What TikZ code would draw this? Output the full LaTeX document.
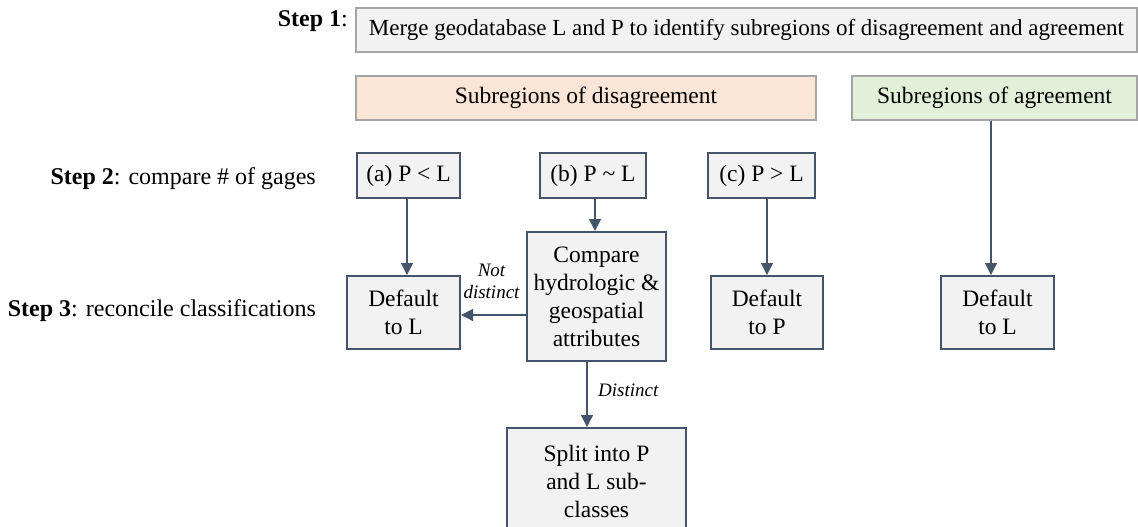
\documentclass[tikz,border=0pt]{standalone}
\usepackage{fontspec}
\setmainfont{Liberation Serif}
\usetikzlibrary{arrows.meta}
\definecolor{dk}{HTML}{44546A}
\definecolor{gb}{HTML}{A5A5A5}
\definecolor{lg}{HTML}{F2F2F2}
\definecolor{peach}{HTML}{FBE5D6}
\definecolor{mint}{HTML}{E2F0D9}
\begin{document}
\begin{tikzpicture}[x=1pt,y=-1pt,
  txt/.style={font=\fontsize{23.5}{28}\selectfont},
  topbox/.style={draw=gb, line width=2pt, inner sep=0pt, txt},
  box/.style={draw=dk, fill=lg, line width=2pt, inner sep=0pt, align=center, txt},
  conn/.style={draw=dk, line width=1.3pt, -{Triangle[length=12pt,width=12pt]}},
  lbl/.style={font=\fontsize{19}{22}\selectfont\itshape, align=center, inner sep=0pt},
  steplbl/.style={font=\fontsize{24}{28}\selectfont, inner sep=0pt, anchor=base east}
]
\useasboundingbox (0,0) rectangle (1138,527);
% top row
\node[topbox, fill=lg, minimum width=781pt, minimum height=44pt, font=\fontsize{23}{28}\selectfont] (s1) at (746.5,30)
  {Merge geodatabase L and P to identify subregions of disagreement and agreement};
\node[steplbl] (l1) at (348,27) {\textbf{Step 1}:};
\node[topbox, fill=peach, minimum width=460pt, minimum height=44pt] (dis) at (586,98) {Subregions of disagreement};
\node[topbox, fill=mint, minimum width=285pt, minimum height=44pt] (agr) at (994.5,98) {Subregions of agreement};
% step 2
\node[steplbl] (l2) at (316,184) {\textbf{Step 2}: compare \# of gages};
\node[box, minimum width=103pt, minimum height=45pt] (a) at (408.5,175.5) {(a) P < L};
\node[box, minimum width=106pt, minimum height=45pt] (b) at (593,175.5) {(b) P \textasciitilde{} L};
\node[box, minimum width=107pt, minimum height=45pt] (c) at (761.5,175.5) {(c) P > L};
% step 3
\node[steplbl] (l3) at (316,316) {\textbf{Step 3}: reconcile classifications};
\node[box, minimum width=113pt, minimum height=73pt] (dl) at (403.5,312.5) {Default\\to L};
\node[box, minimum width=139pt, minimum height=129pt] (cmp) at (596.5,296.5) {Compare\\hydrologic \&\\geospatial\\attributes};
\node[box, minimum width=112pt, minimum height=73pt] (dp) at (767,312.5) {Default\\to P};
\node[box, minimum width=113pt, minimum height=73pt] (dr) at (997.5,312.5) {Default\\to L};
\node[box, minimum width=179pt, minimum height=106pt, anchor=north] (sp) at (596.5,427) {Split into P\\and L sub-\\classes};
% connectors
\coordinate (ax) at (407,0);
\draw[conn] (a.south -| ax) -- (dl.north -| ax);
\coordinate (bx) at (595,0);
\draw[conn] (b.south -| bx) -- (cmp.north -| bx);
\draw[conn] (c.south -| dp.north) -- (dp.north);
\coordinate (rx) at (991,0);
\draw[conn] (agr.south -| rx) -- (dr.north -| rx);
\coordinate (hy) at (0,315);
\draw[conn] (cmp.west |- hy) -- (dl.east |- hy);
\coordinate (sx) at (587,0);
\draw[conn] (cmp.south -| sx) -- (sp.north -| sx);
\node[lbl] (nd) at (491.5,281) {Not\\distinct};
\node[lbl, anchor=west] (di) at (598,390) {Distinct};
\end{tikzpicture}
\end{document}
